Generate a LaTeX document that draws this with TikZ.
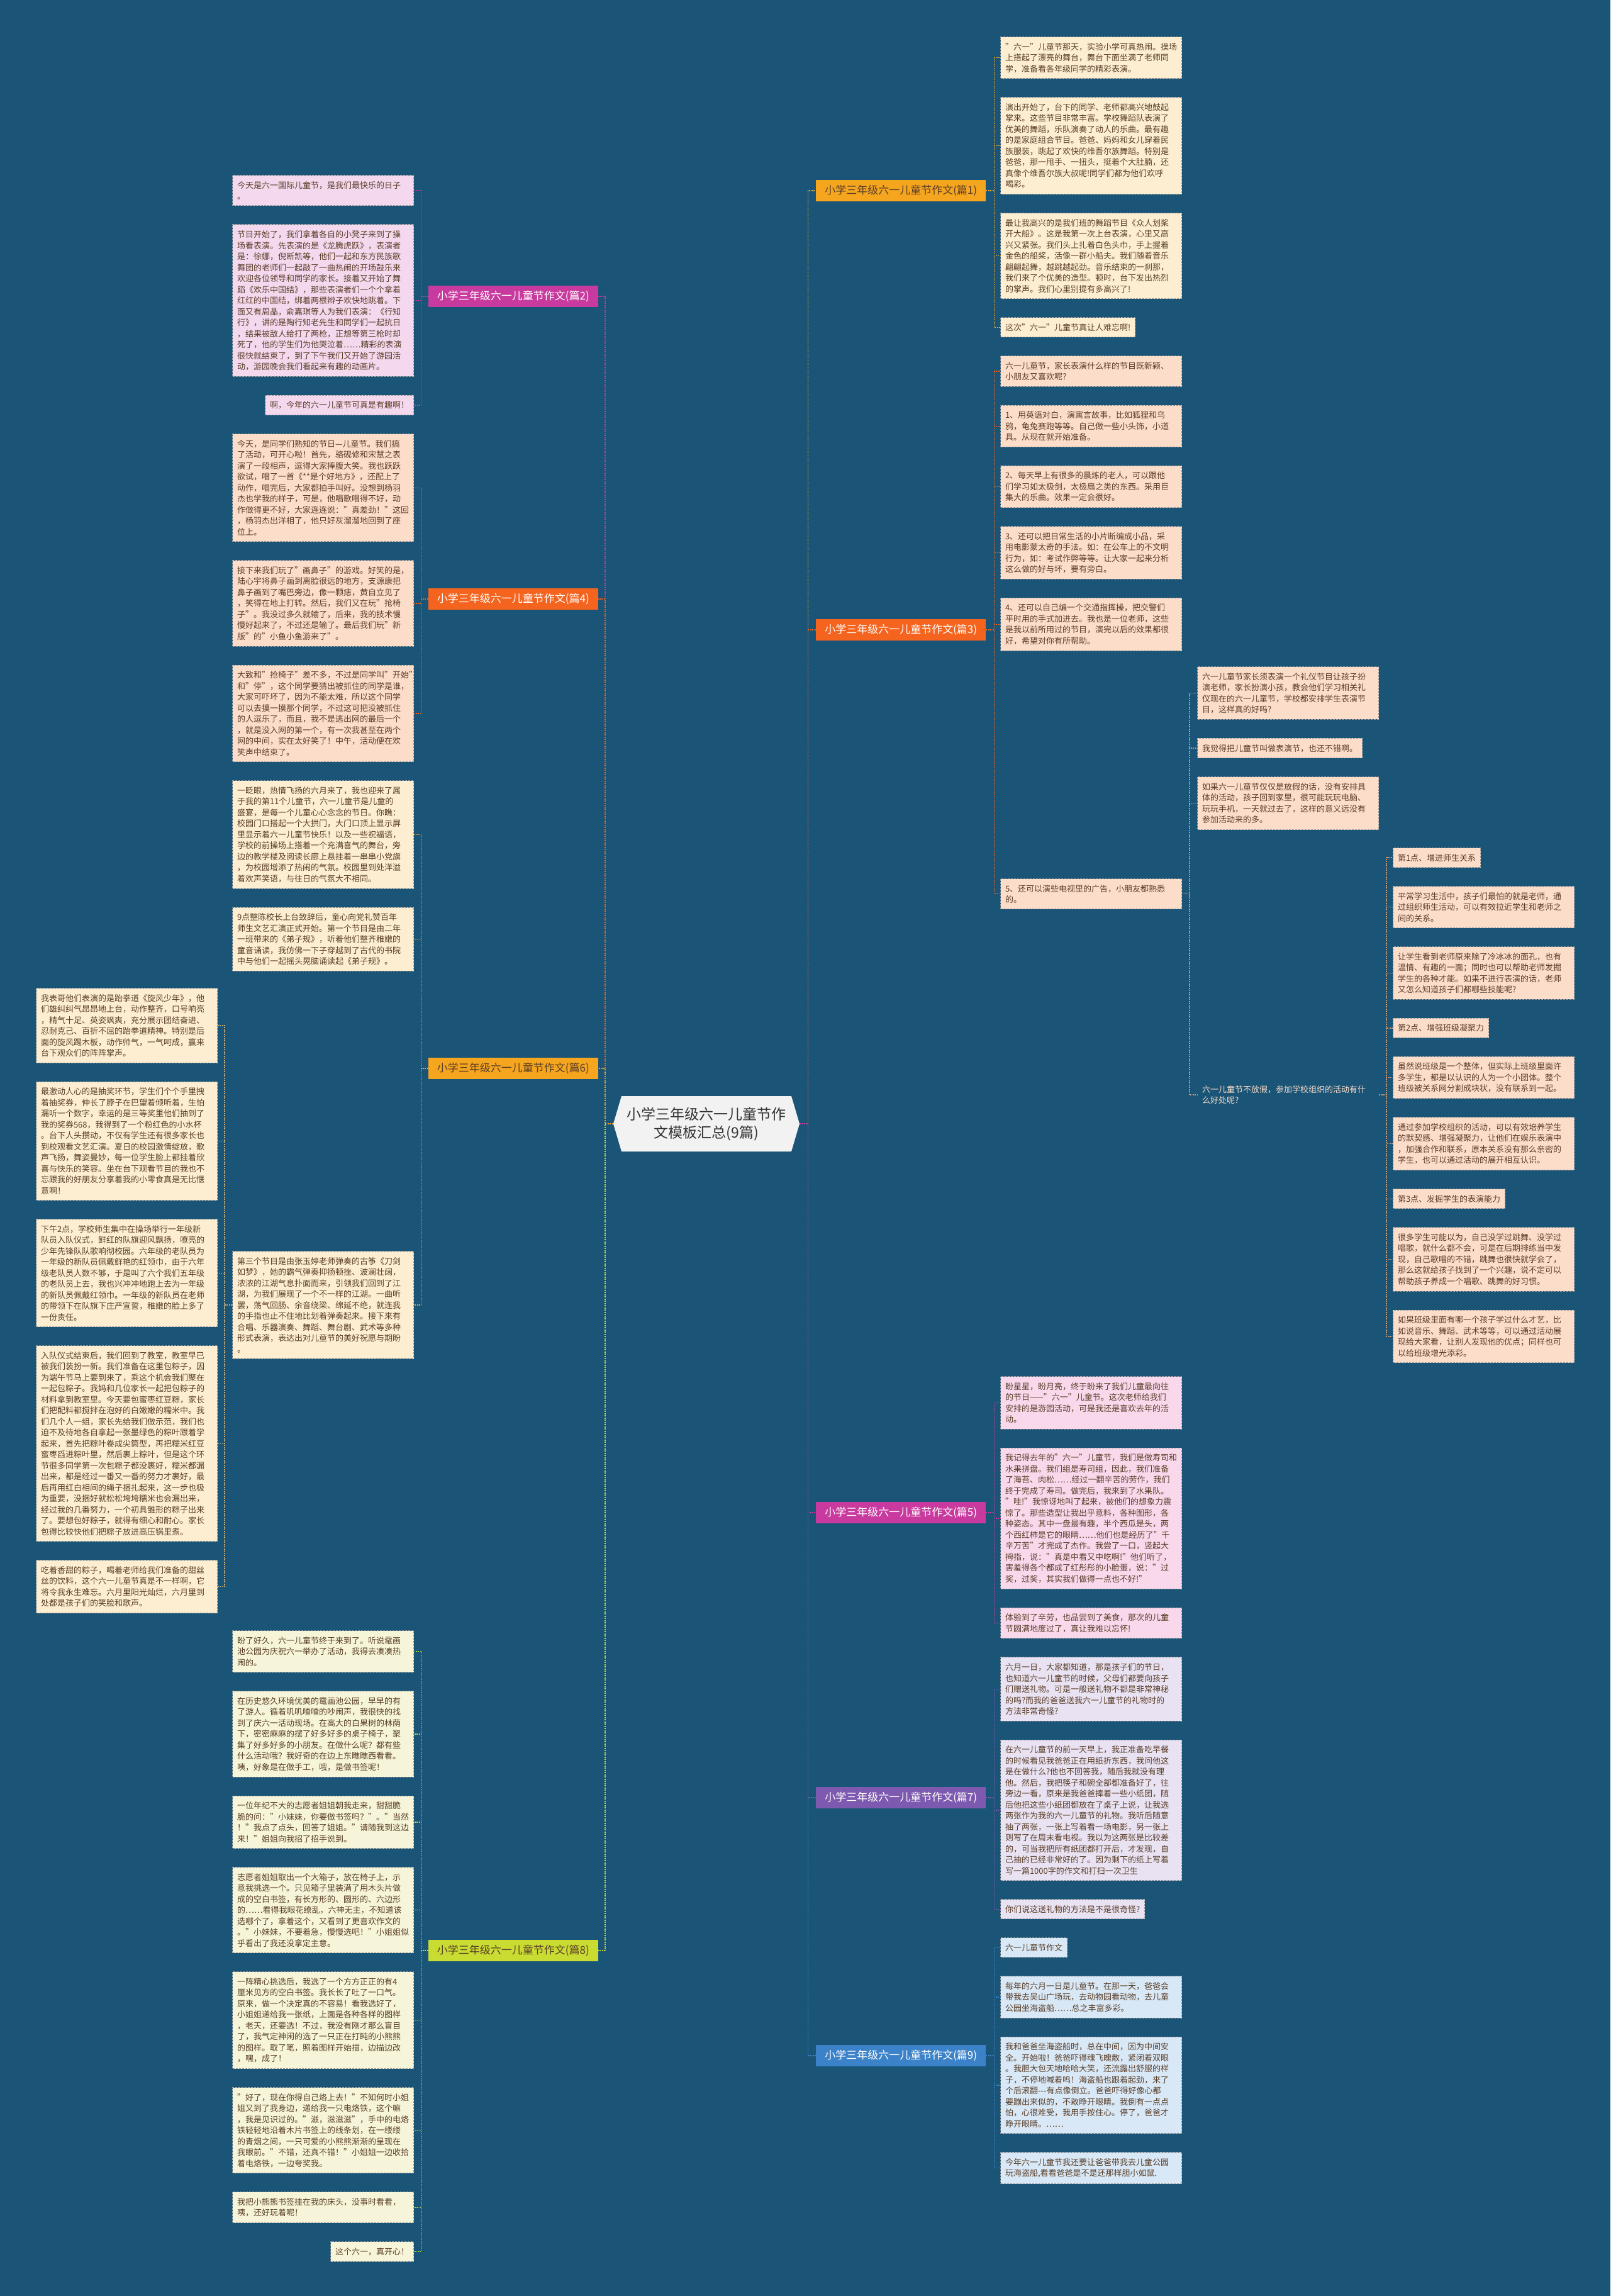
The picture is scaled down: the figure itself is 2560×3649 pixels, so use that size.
\documentclass[tikz,border=0pt]{standalone}
\usepackage{fontspec}
\setmainfont{Noto Sans CJK SC}
\usetikzlibrary{positioning}
\definecolor{bgblue}{RGB}{26,84,119}
\definecolor{magbr}{RGB}{200,58,158}
\definecolor{orgbr}{RGB}{245,100,30}
\definecolor{ambbr}{RGB}{245,165,30}
\definecolor{limbr}{RGB}{200,220,50}
\definecolor{purbr}{RGB}{125,90,175}
\definecolor{blubr}{RGB}{60,130,200}
\definecolor{subbr}{RGB}{205,150,112}
\definecolor{subam}{RGB}{200,170,120}
\definecolor{fpink}{RGB}{244,216,238}
\definecolor{fpeach}{RGB}{252,221,202}
\definecolor{fcream}{RGB}{253,238,210}
\definecolor{fyell}{RGB}{246,245,218}
\definecolor{frose}{RGB}{249,216,236}
\definecolor{flav}{RGB}{232,226,242}
\definecolor{fsky}{RGB}{216,232,246}
\definecolor{txtbr}{RGB}{90,62,40}
\definecolor{ctrfill}{RGB}{242,242,242}
\newcommand\boxfont{\fontsize{13}{17.5}\selectfont}
\newcommand\lblfont{\fontsize{17}{20}\selectfont}
\newcommand\ctrfont{\fontsize{23}{29}\selectfont}
\tikzset{
  cbox/.style={draw=black!40,dash pattern=on 3pt off 2pt,line width=1pt,text width=273pt,inner xsep=7.5pt,inner ysep=9.5pt,align=left,font=\boxfont,text=txtbr},
  sbox/.style={draw=black!40,dash pattern=on 3pt off 2pt,line width=1pt,inner xsep=7.5pt,inner ysep=9.5pt,font=\boxfont,text=txtbr},
  lbl/.style={minimum width=270pt,minimum height=34pt,inner sep=0pt,font=\lblfont},
  ctrnode/.style={minimum width=296pt,minimum height=88pt,inner sep=0pt,align=center,font=\ctrfont,text=black!80},
  con/.style={line width=1.4pt,dash pattern=on 2pt off 1.5pt},
  dnl/.style={below left=29pt and 0pt of #1.south east},
  dnr/.style={below right=29pt and 0pt of #1.south west}
}
\begin{document}
\begin{tikzpicture}[x=1pt,y=-1pt]
\useasboundingbox (0,0) rectangle (2560,3649);
\fill[bgblue] (0,0) rectangle (2560,3649);

% centre
\coordinate (ctrc) at (1123,1786);
\fill[ctrfill] (ctrc) ++(-148,0) -- ++(13,-44) -- ++(270,0) -- ++(13,44) -- ++(-13,44) -- ++(-270,0) -- cycle;
\node[ctrnode] (ctr) at (ctrc) {小学三年级六一儿童节作\\文模板汇总(9篇)};

% branch labels
\node[lbl,fill=ambbr,text=txtbr,anchor=west] (lbl1) at (1297,303) {小学三年级六一儿童节作文(篇1)};
\node[lbl,fill=magbr,text=white,anchor=east] (lbl2) at (951,471) {小学三年级六一儿童节作文(篇2)};
\node[lbl,fill=orgbr,text=white,anchor=west] (lbl3) at (1297,1001) {小学三年级六一儿童节作文(篇3)};
\node[lbl,fill=orgbr,text=white,anchor=east] (lbl4) at (951,952) {小学三年级六一儿童节作文(篇4)};
\node[lbl,fill=magbr,text=white,anchor=west] (lbl5) at (1297,2404) {小学三年级六一儿童节作文(篇5)};
\node[lbl,fill=ambbr,text=txtbr,anchor=east] (lbl6) at (951,1698) {小学三年级六一儿童节作文(篇6)};
\node[lbl,fill=purbr,text=white,anchor=west] (lbl7) at (1297,2857) {小学三年级六一儿童节作文(篇7)};
\node[lbl,fill=limbr,text=txtbr,anchor=east] (lbl8) at (951,3100) {小学三年级六一儿童节作文(篇8)};
\node[lbl,fill=blubr,text=white,anchor=west] (lbl9) at (1297,3267) {小学三年级六一儿童节作文(篇9)};

% left column
\node[cbox,fill=fpink,anchor=north east] (a1) at (658,278) {今天是六一国际儿童节，是我们最快乐的日子\\。};
\node[cbox,fill=fpink,dnl=a1] (a2) {节目开始了，我们拿着各自的小凳子来到了操\\场看表演。先表演的是《龙腾虎跃》，表演者\\是：徐娜，倪断凯等，他们一起和东方民族歌\\舞团的老师们一起敲了一曲热闹的开场鼓乐来\\欢迎各位领导和同学的家长。接着又开始了舞\\蹈《欢乐中国结》，那些表演者们一个个拿着\\红红的中国结，绑着两根辫子欢快地跳着。下\\面又有周晶，俞嘉琪等人为我们表演：《行知\\行》，讲的是陶行知老先生和同学们一起抗日\\，结果被敌人给打了两枪，正想等第三枪时却\\死了，他的学生们为他哭泣着……精彩的表演\\很快就结束了，到了下午我们又开始了游园活\\动，游园晚会我们看起来有趣的动画片。};
\node[sbox,fill=fpink,dnl=a2] (a3) {啊，今年的六一儿童节可真是有趣啊！};
\node[cbox,fill=fpeach,dnl=a3] (b1) {今天，是同学们熟知的节日—儿童节。我们搞\\了活动，可开心啦！首先，骆砚修和宋慧之表\\演了一段相声，逗得大家捧腹大笑。我也跃跃\\欲试，唱了一首《**是个好地方》，还配上了\\动作，唱完后，大家都拍手叫好。没想到杨羽\\杰也学我的样子，可是，他唱歌唱得不好，动\\作做得更不好，大家连连说："真差劲！"这回\\，杨羽杰出洋相了，他只好灰溜溜地回到了座\\位上。};
\node[cbox,fill=fpeach,dnl=b1] (b2) {接下来我们玩了"画鼻子"的游戏。好笑的是，\\陆心宇将鼻子画到离脸很远的地方，支源康把\\鼻子画到了嘴巴旁边，像一颗痣，黄自立见了\\，笑得在地上打转。然后，我们又在玩"抢椅\\子"。我没过多久就输了，后来，我的技术慢\\慢好起来了，不过还是输了。最后我们玩"新\\版"的"小鱼小鱼游来了"。};
\node[cbox,fill=fpeach,dnl=b2] (b3) {大致和"抢椅子"差不多，不过是同学叫"开始"\\和"停"，这个同学要猜出被抓住的同学是谁，\\大家可吓坏了，因为不能太难，所以这个同学\\可以去摸一摸那个同学，不过这可把没被抓住\\的人逗乐了，而且，我不是逃出网的最后一个\\，就是没入网的第一个，有一次我甚至在两个\\网的中间，实在太好笑了！中午，活动便在欢\\笑声中结束了。};
\node[cbox,fill=fcream,dnl=b3] (c1) {一眨眼，热情飞扬的六月来了，我也迎来了属\\于我的第11个儿童节，六一儿童节是儿童的\\盛宴，是每一个儿童心心念念的节日。你瞧：\\校园门口搭起一个大拱门，大门口顶上显示屏\\里显示着六一儿童节快乐！以及一些祝福语，\\学校的前操场上搭着一个充满喜气的舞台，旁\\边的教学楼及阅读长廊上悬挂着一串串小党旗\\，为校园增添了热闹的气氛。校园里到处洋溢\\着欢声笑语，与往日的气氛大不相同。};
\node[cbox,fill=fcream,dnl=c1] (c2) {9点整陈校长上台致辞后，童心向党礼赞百年\\师生文艺汇演正式开始。第一个节目是由二年\\一班带来的《弟子规》，听着他们整齐稚嫩的\\童音诵读，我仿佛一下子穿越到了古代的书院\\中与他们一起摇头晃脑诵读起《弟子规》。};
\node[cbox,fill=fcream,anchor=north east] (c3) at (658,1988) {第三个节目是由张玉婷老师弹奏的古筝《刀剑\\如梦》，她的霸气弹奏抑扬顿挫、波澜壮阔，\\浓浓的江湖气息扑面而来，引领我们回到了江\\湖，为我们展现了一个不一样的江湖。一曲听\\罢，荡气回肠、余音绕梁、绵延不绝，就连我\\的手指也止不住地比划着弹奏起来。接下来有\\合唱、乐器演奏、舞蹈、舞台剧、武术等多种\\形式表演，表达出对儿童节的美好祝愿与期盼\\。};

% far left column
\node[cbox,fill=fcream,anchor=north east] (l1) at (346,1570) {我表哥他们表演的是跆拳道《旋风少年》，他\\们雄纠纠气昂昂地上台，动作整齐，口号响亮\\，精气十足、英姿飒爽，充分展示团结奋进、\\忍耐克己、百折不屈的跆拳道精神。特别是后\\面的旋风踢木板，动作帅气，一气呵成，赢来\\台下观众们的阵阵掌声。};
\node[cbox,fill=fcream,dnl=l1] (l2) {最激动人心的是抽奖环节，学生们个个手里拽\\着抽奖券，伸长了脖子在巴望着倾听着，生怕\\漏听一个数字，幸运的是三等奖里他们抽到了\\我的奖券568，我得到了一个粉红色的小水杯\\。台下人头攒动，不仅有学生还有很多家长也\\到校观看文艺汇演。夏日的校园激情绽放，歌\\声飞扬，舞姿曼妙，每一位学生脸上都挂着欣\\喜与快乐的笑容。坐在台下观看节目的我也不\\忘跟我的好朋友分享着我的小零食真是无比惬\\意啊！};
\node[cbox,fill=fcream,dnl=l2] (l3) {下午2点，学校师生集中在操场举行一年级新\\队员入队仪式，鲜红的队旗迎风飘扬，嘹亮的\\少年先锋队队歌响彻校园。六年级的老队员为\\一年级的新队员佩戴鲜艳的红领巾，由于六年\\级老队员人数不够，于是叫了六个我们五年级\\的老队员上去，我也兴冲冲地跑上去为一年级\\的新队员佩戴红领巾。一年级的新队员在老师\\的带领下在队旗下庄严宣誓，稚嫩的脸上多了\\一份责任。};
\node[cbox,fill=fcream,dnl=l3] (l4) {入队仪式结束后，我们回到了教室，教室早已\\被我们装扮一新。我们准备在这里包粽子，因\\为端午节马上要到来了，乘这个机会我们聚在\\一起包粽子。我妈和几位家长一起把包粽子的\\材料拿到教室里。今天要包蜜枣红豆粽，家长\\们把配料都搅拌在泡好的白嫩嫩的糯米中。我\\们几个人一组，家长先给我们做示范，我们也\\迫不及待地各自拿起一张墨绿色的粽叶跟着学\\起来，首先把粽叶卷成尖筒型，再把糯米红豆\\蜜枣舀进粽叶里，然后裹上粽叶，但是这个环\\节很多同学第一次包粽子都没裹好，糯米都漏\\出来，都是经过一番又一番的努力才裹好，最\\后再用红白相间的绳子捆扎起来，这一步也极\\为重要，没捆好就松松垮垮糯米也会漏出来，\\经过我的几番努力，一个初具雏形的粽子出来\\了。要想包好粽子，就得有细心和耐心。家长\\包得比较快他们把粽子放进高压锅里煮。};
\node[cbox,fill=fcream,dnl=l4] (l5) {吃着香甜的粽子，喝着老师给我们准备的甜丝\\丝的饮料，这个六一儿童节真是不一样啊，它\\将令我永生难忘。六月里阳光灿烂，六月里到\\处都是孩子们的笑脸和歌声。};

% left column, bottom
\node[cbox,fill=fyell,anchor=north east] (k1) at (658,2591) {盼了好久，六一儿童节终于来到了。听说鼋画\\池公园为庆祝六一举办了活动，我得去凑凑热\\闹的。};
\node[cbox,fill=fyell,dnl=k1] (k2) {在历史悠久环境优美的鼋画池公园，早早的有\\了游人。循着叽叽喳喳的吵闹声，我很快的找\\到了庆六一活动现场。在高大的白果树的林荫\\下，密密麻麻的摆了好多好多的桌子椅子，聚\\集了好多好多的小朋友。在做什么呢？都有些\\什么活动哦？我好奇的在边上东瞧瞧西看看。\\咦，好象是在做手工，哦，是做书签呢！};
\node[cbox,fill=fyell,dnl=k2] (k3) {一位年纪不大的志愿者姐姐朝我走来，甜甜脆\\脆的问："小妹妹，你要做书签吗？"。"当然\\！"我点了点头，回答了姐姐。"请随我到这边\\来！"姐姐向我招了招手说到。};
\node[cbox,fill=fyell,dnl=k3] (k4) {志愿者姐姐取出一个大箱子，放在椅子上，示\\意我挑选一个。只见箱子里装满了用木头片做\\成的空白书签，有长方形的、圆形的、六边形\\的……看得我眼花缭乱，六神无主，不知道该\\选哪个了，拿着这个，又看到了更喜欢作文的\\。"小妹妹，不要着急，慢慢选吧！"小姐姐似\\乎看出了我还没拿定主意。};
\node[cbox,fill=fyell,dnl=k4] (k5) {一阵精心挑选后，我选了一个方方正正的有4\\厘米见方的空白书签。我长长了吐了一口气。\\原来，做一个决定真的不容易！看我选好了，\\小姐姐递给我一张纸，上面是各种各样的图样\\，老天，还要选！不过，我没有刚才那么盲目\\了，我气定神闲的选了一只正在打盹的小熊熊\\的图样。取了笔，照着图样开始描，边描边改\\，嘿，成了！};
\node[cbox,fill=fyell,dnl=k5] (k6) {"好了，现在你得自己烙上去！"不知何时小姐\\姐又到了我身边，递给我一只电烙铁，这个嘛\\，我是见识过的。"滋，滋滋滋"，手中的电烙\\铁轻轻地沿着木片书签上的线条划，在一缕缕\\的青烟之间，一只可爱的小熊熊渐渐的呈现在\\我眼前。"不错，还真不错！"小姐姐一边收拾\\着电烙铁，一边夸奖我。};
\node[cbox,fill=fyell,dnl=k6] (k7) {我把小熊熊书签挂在我的床头，没事时看看，\\咦，还好玩着呢！};
\node[sbox,fill=fyell,dnl=k7] (k8) {这个六一，真开心！};

% right column
\node[cbox,fill=fcream,anchor=north west] (f1) at (1590,58) {"六一"儿童节那天，实验小学可真热闹。操场\\上搭起了漂亮的舞台，舞台下面坐满了老师同\\学，准备看各年级同学的精彩表演。};
\node[cbox,fill=fcream,dnr=f1] (f2) {演出开始了，台下的同学、老师都高兴地鼓起\\掌来。这些节目非常丰富。学校舞蹈队表演了\\优美的舞蹈，乐队演奏了动人的乐曲。最有趣\\的是家庭组合节目。爸爸、妈妈和女儿穿着民\\族服装，跳起了欢快的维吾尔族舞蹈。特别是\\爸爸，那一甩手、一扭头，挺着个大肚腩，还\\真像个维吾尔族大叔呢!同学们都为他们欢呼\\喝彩。};
\node[cbox,fill=fcream,dnr=f2] (f3) {最让我高兴的是我们班的舞蹈节目《众人划桨\\开大船》。这是我第一次上台表演，心里又高\\兴又紧张。我们头上扎着白色头巾，手上握着\\金色的船桨，活像一群小船夫。我们随着音乐\\翩翩起舞，越跳越起劲。音乐结束的一刹那，\\我们来了个优美的造型。顿时，台下发出热烈\\的掌声。我们心里别提有多高兴了!};
\node[sbox,fill=fcream,dnr=f3] (f4) {这次"六一"儿童节真让人难忘啊!};
\node[cbox,fill=fpeach,dnr=f4] (g1) {六一儿童节，家长表演什么样的节目既新颖、\\小朋友又喜欢呢？};
\node[cbox,fill=fpeach,dnr=g1] (g2) {1、用英语对白，演寓言故事，比如狐狸和乌\\鸦，龟兔赛跑等等。自己做一些小头饰，小道\\具。从现在就开始准备。};
\node[cbox,fill=fpeach,dnr=g2] (g3) {2、每天早上有很多的晨炼的老人，可以跟他\\们学习如太极剑，太极扇之类的东西。采用巨\\集大的乐曲。效果一定会很好。};
\node[cbox,fill=fpeach,dnr=g3] (g4) {3、还可以把日常生活的小片断编成小品，采\\用电影蒙太奇的手法。如：在公车上的不文明\\行为，如：考试作弊等等。让大家一起来分析\\这么做的好与坏，要有旁白。};
\node[cbox,fill=fpeach,dnr=g4] (g5) {4、还可以自己编一个交通指挥操，把交警们\\平时用的手式加进去。我也是一位老师，这些\\是我以前所用过的节目，演完以后的效果都很\\好，希望对你有所帮助。};
\node[cbox,fill=fpeach,anchor=north west] (g6) at (1590,1396) {5、还可以演些电视里的广告，小朋友都熟悉\\的。};

% far right columns
\node[cbox,fill=fpeach,anchor=north west] (d1) at (1903,1059) {六一儿童节家长须表演一个礼仪节目让孩子扮\\演老师，家长扮演小孩，教会他们学习相关礼\\仪现在的六一儿童节，学校都安排学生表演节\\目，这样真的好吗?};
\node[sbox,fill=fpeach,dnr=d1] (d2) {我觉得把儿童节叫做表演节，也还不错啊。};
\node[cbox,fill=fpeach,dnr=d2] (d3) {如果六一儿童节仅仅是放假的话，没有安排具\\体的活动，孩子回到家里，很可能玩玩电脑、\\玩玩手机，一天就过去了，这样的意义远没有\\参加活动来的多。};
\node[cbox,draw=none,text=fpeach,anchor=north west] (d4) at (1903,1715) {六一儿童节不放假，参加学校组织的活动有什\\么好处呢?};
\node[sbox,fill=fpeach,anchor=north west] (e1) at (2214,1347) {第1点、增进师生关系};
\node[cbox,fill=fpeach,dnr=e1] (e2) {平常学习生活中，孩子们最怕的就是老师，通\\过组织师生活动，可以有效拉近学生和老师之\\间的关系。};
\node[cbox,fill=fpeach,dnr=e2] (e3) {让学生看到老师原来除了冷冰冰的面孔，也有\\温情、有趣的一面；同时也可以帮助老师发掘\\学生的各种才能。如果不进行表演的话，老师\\又怎么知道孩子们都哪些技能呢?};
\node[sbox,fill=fpeach,dnr=e3] (e4) {第2点、增强班级凝聚力};
\node[cbox,fill=fpeach,dnr=e4] (e5) {虽然说班级是一个整体，但实际上班级里面许\\多学生，都是以认识的人为一个小团体。整个\\班级被关系网分割成块状，没有联系到一起。};
\node[cbox,fill=fpeach,dnr=e5] (e6) {通过参加学校组织的活动，可以有效培养学生\\的默契感、增强凝聚力，让他们在娱乐表演中\\，加强合作和联系，原本关系没有那么亲密的\\学生，也可以通过活动的展开相互认识。};
\node[sbox,fill=fpeach,dnr=e6] (e7) {第3点、发掘学生的表演能力};
\node[cbox,fill=fpeach,dnr=e7] (e8) {很多学生可能以为，自己没学过跳舞、没学过\\唱歌，就什么都不会，可是在后期排练当中发\\现，自己歌唱的不错，跳舞也很快就学会了，\\那么这就给孩子找到了一个兴趣，说不定可以\\帮助孩子养成一个唱歌、跳舞的好习惯。};
\node[cbox,fill=fpeach,dnr=e8] (e9) {如果班级里面有哪一个孩子学过什么才艺，比\\如说音乐、舞蹈、武术等等，可以通过活动展\\现给大家看，让别人发现他的优点；同样也可\\以给班级增光添彩。};

% right column, bottom
\node[cbox,fill=frose,anchor=north west] (h1) at (1590,2187) {盼星星，盼月亮，终于盼来了我们儿童最向往\\的节日——"六一"儿童节。这次老师给我们\\安排的是游园活动，可是我还是喜欢去年的活\\动。};
\node[cbox,fill=frose,dnr=h1] (h2) {我记得去年的"六一"儿童节，我们是做寿司和\\水果拼盘。我们组是寿司组，因此，我们准备\\了海苔、肉松……经过一翻辛苦的劳作，我们\\终于完成了寿司。做完后，我来到了水果队。\\"哇!"我惊讶地叫了起来，被他们的想象力震\\惊了。那些造型让我出乎意料，各种图形，各\\种姿态。其中一盘最有趣，半个西瓜是头，两\\个西红柿是它的眼睛……他们也是经历了"千\\辛万苦"才完成了杰作。我尝了一口，竖起大\\拇指，说："真是中看又中吃啊!"他们听了，\\害羞得各个都成了红彤彤的小脸蛋，说："过\\奖，过奖，其实我们做得一点也不好!"};
\node[cbox,fill=frose,dnr=h2] (h3) {体验到了辛劳，也品尝到了美食，那次的儿童\\节圆满地度过了，真让我难以忘怀!};
\node[cbox,fill=flav,dnr=h3] (i1) {六月一日，大家都知道，那是孩子们的节日，\\也知道六一儿童节的时候，父母们都要向孩子\\们赠送礼物。可是一般送礼物不都是非常神秘\\的吗?而我的爸爸送我六一儿童节的礼物时的\\方法非常奇怪?};
\node[cbox,fill=flav,dnr=i1] (i2) {在六一儿童节的前一天早上，我正准备吃早餐\\的时候看见我爸爸正在用纸折东西，我问他这\\是在做什么?他也不回答我，随后我就没有理\\他。然后，我把筷子和碗全部都准备好了，往\\旁边一看，原来是我爸爸捧着一些小纸团，随\\后他把这些小纸团都放在了桌子上说，让我选\\两张作为我的六一儿童节的礼物。我听后随意\\抽了两张，一张上写着看一场电影，另一张上\\则写了在周末看电视。我以为这两张是比较差\\的，可当我把所有纸团都打开后，才发现，自\\己抽的已经非常好的了。因为剩下的纸上写着\\写一篇1000字的作文和打扫一次卫生};
\node[sbox,fill=flav,dnr=i2] (i3) {你们说这送礼物的方法是不是很奇怪?};
\node[sbox,fill=fsky,dnr=i3] (j1) {六一儿童节作文};
\node[cbox,fill=fsky,dnr=j1] (j2) {每年的六月一日是儿童节。在那一天，爸爸会\\带我去吴山广场玩，去动物园看动物，去儿童\\公园坐海盗船……总之丰富多彩。};
\node[cbox,fill=fsky,dnr=j2] (j3) {我和爸爸坐海盗船时，总在中间，因为中间安\\全。开始啦！爸爸吓得魂飞魄散，紧闭着双眼\\。我胆大包天地哈哈大笑，还流露出舒服的样\\子，不停地喊着呜！海盗船也跟着起劲，来了\\个后滚翻-{}-{}-有点像倒立。爸爸吓得好像心都\\要蹦出来似的，不敢睁开眼睛。我倒有一点点\\怕，心很难受，我用手按住心。停了，爸爸才\\睁开眼睛。……};
\node[cbox,fill=fsky,dnr=j3] (j4) {今年六一儿童节我还要让爸爸带我去儿童公园\\玩海盗船,看看爸爸是不是还那样胆小如鼠.};

% trunk connectors
\draw[con,magbr] (ctr.west) -- ++(-13,0) |- (lbl2.east);
\draw[con,orgbr] (ctr.west) -- ++(-13,0) |- (lbl4.east);
\draw[con,limbr] (ctr.west) -- ++(-13,0) |- (lbl8.east);
\draw[con,ambbr] (ctr.west) -- ++(-13,0) |- (lbl6.east);
\draw[con,ambbr] (ctr.east) -- ++(13,0) |- (lbl1.west);
\draw[con,orgbr] (ctr.east) -- ++(13,0) |- (lbl3.west);
\draw[con,blubr] (ctr.east) -- ++(13,0) |- (lbl9.west);
\draw[con,purbr] (ctr.east) -- ++(13,0) |- (lbl7.west);
\draw[con,magbr] (ctr.east) -- ++(13,0) |- (lbl5.west);

% group connectors
\foreach \c in {a1,a2,a3} \draw[con,magbr] (lbl2.west) -- ++(-11,0) |- (\c.east);
\foreach \c in {b1,b2,b3} \draw[con,orgbr] (lbl4.west) -- ++(-11,0) |- (\c.east);
\foreach \c in {c1,c2,c3} \draw[con,ambbr] (lbl6.west) -- ++(-11,0) |- (\c.east);
\foreach \c in {l1,l2,l3,l4,l5} \draw[con,subam] (c3.west) -- ++(-12,0) |- (\c.east);
\foreach \c in {k1,k2,k3,k4,k5,k6,k7,k8} \draw[con,limbr] (lbl8.west) -- ++(-11,0) |- (\c.east);
\foreach \c in {f1,f2,f3,f4} \draw[con,ambbr] (lbl1.east) -- ++(13,0) |- (\c.west);
\foreach \c in {g1,g2,g3,g4,g5,g6} \draw[con,orgbr] (lbl3.east) -- ++(13,0) |- (\c.west);
\foreach \c in {d1,d2,d3,d4} \draw[con,subbr] (g6.east) -- ++(12,0) |- (\c.west);
\foreach \c in {e1,e2,e3,e4,e5,e6,e7,e8,e9} \draw[con,subbr] (d4.east) -- ++(12,0) |- (\c.west);
\foreach \c in {h1,h2,h3} \draw[con,magbr] (lbl5.east) -- ++(13,0) |- (\c.west);
\foreach \c in {i1,i2,i3} \draw[con,purbr] (lbl7.east) -- ++(13,0) |- (\c.west);
\foreach \c in {j1,j2,j3,j4} \draw[con,blubr] (lbl9.east) -- ++(13,0) |- (\c.west);
\end{tikzpicture}
\end{document}
